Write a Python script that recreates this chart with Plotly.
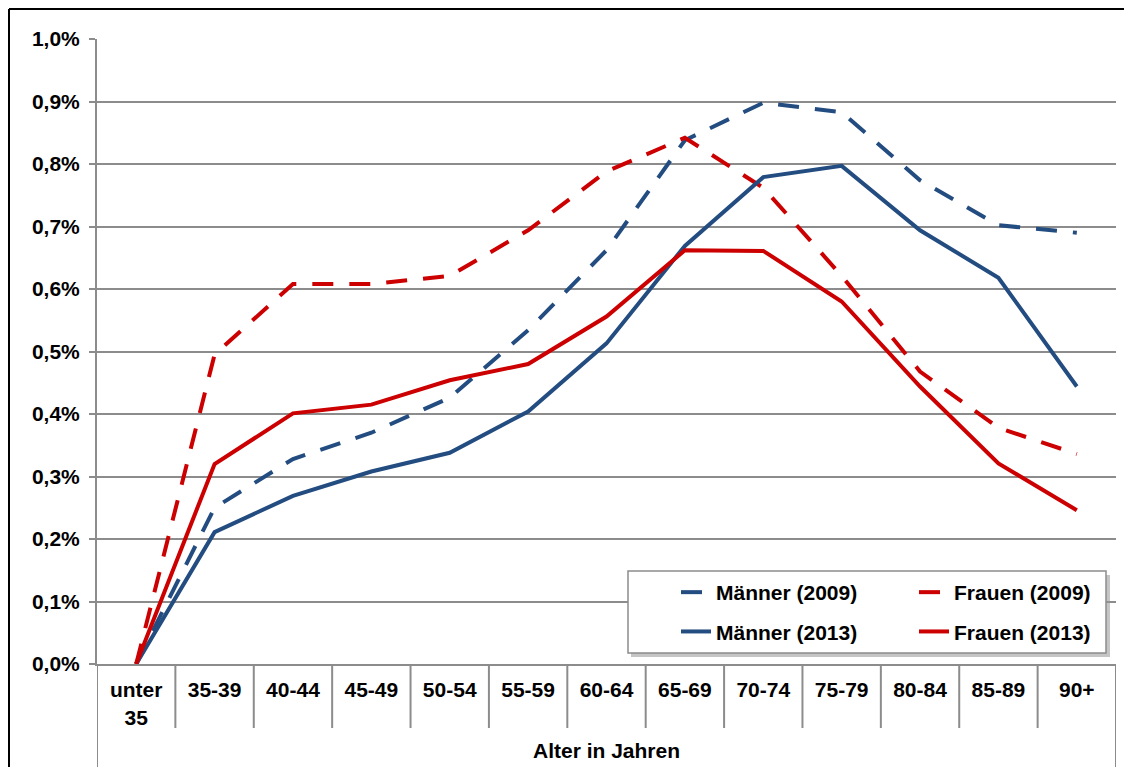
import plotly.graph_objects as go

# ---------------- data ----------------
categories = ["unter<br>35", "35-39", "40-44", "45-49", "50-54", "55-59", "60-64",
              "65-69", "70-74", "75-79", "80-84", "85-89", "90+"]
maenner_2009 = [0.0, 0.250, 0.328, 0.370, 0.426, 0.534, 0.662, 0.838, 0.898, 0.883, 0.774, 0.702, 0.690]
frauen_2009 = [0.0, 0.495, 0.608, 0.608, 0.621, 0.694, 0.788, 0.842, 0.762, 0.621, 0.468, 0.378, 0.336]
maenner_2013 = [0.0, 0.211, 0.269, 0.308, 0.338, 0.404, 0.513, 0.669, 0.779, 0.797, 0.694, 0.618, 0.444]
frauen_2013 = [0.0, 0.320, 0.401, 0.415, 0.454, 0.480, 0.556, 0.662, 0.661, 0.580, 0.444, 0.321, 0.246]
y_ticks = [0.0, 0.1, 0.2, 0.3, 0.4, 0.5, 0.6, 0.7, 0.8, 0.9, 1.0]
y_ticktext = [f"{v:.1f}%".replace(".", ",") for v in y_ticks]

BLUE = "#234C80"
RED = "#CC0000"
GRID = "#8C8C8C"
FONT = dict(family="Liberation Sans, Arial, sans-serif", size=21, color="black", weight="bold")

W, H = 1124, 767
ML, MR, MT, MB = 97, 8, 39, 103
PW, PH = W - ML - MR, H - MT - MB


def px_x(px):
    return (px - ML) / PW


def px_y(py):
    return (H - MB - py) / PH


fig = go.Figure()
series = [
    ("Männer (2009)", maenner_2009, BLUE, "21px,16px", "legend", "m09"),
    ("Frauen (2009)", frauen_2009, RED, "21px,16px", "legend2", "f09"),
    ("Männer (2013)", maenner_2013, BLUE, "solid", "legend", "m13"),
    ("Frauen (2013)", frauen_2013, RED, "solid", "legend2", "f13"),
]
for name, vals, col, dash, leg, grp in series:
    fig.add_trace(go.Scatter(
        x=categories, y=vals, name=name, mode="lines",
        line=dict(color=col, width=4, dash=dash),
        legend=leg, legendgroup=grp,
    ))

shapes = []
# outer frame (top and left)
shapes.append(dict(type="line", xref="paper", yref="paper",
                   x0=px_x(9), x1=px_x(W + 10), y0=px_y(9), y1=px_y(9),
                   line=dict(color="black", width=2)))
shapes.append(dict(type="line", xref="paper", yref="paper",
                   x0=px_x(9), x1=px_x(9), y0=px_y(9), y1=px_y(H + 10),
                   line=dict(color="black", width=2)))
# category dividers below the x axis
n = len(categories)
for i in range(n + 1):
    outer = i == 0 or i == n
    shapes.append(dict(type="line", xref="x", yref="paper",
                       x0=i - 0.5, x1=i - 0.5, y0=0, y1=px_y(H + 10) if outer else px_y(728),
                       line=dict(color=GRID, width=2)))
# legend box with shadow
shapes.append(dict(type="rect", xref="paper", yref="paper", layer="above",
                   x0=px_x(631), x1=px_x(1110), y0=px_y(575), y1=px_y(657),
                   fillcolor="rgba(150,150,150,0.55)", line=dict(width=0)))
shapes.append(dict(type="rect", xref="paper", yref="paper", layer="above",
                   x0=px_x(628), x1=px_x(1106), y0=px_y(571), y1=px_y(653),
                   fillcolor="white", line=dict(color=GRID, width=1.5)))

legend_common = dict(font=FONT, bgcolor="rgba(0,0,0,0)", borderwidth=0,
                     xanchor="left", yanchor="top", orientation="v",
                     tracegroupgap=9, traceorder="grouped")

fig.update_layout(
    width=W, height=H,
    margin=dict(l=ML, r=MR, t=MT, b=MB, pad=0),
    paper_bgcolor="white", plot_bgcolor="white",
    font=FONT,
    showlegend=True,
    legend=dict(x=px_x(676), y=px_y(572), **legend_common),
    legend2=dict(x=px_x(914), y=px_y(572), **legend_common),
    shapes=shapes,
    xaxis=dict(
        type="category", categoryorder="array", categoryarray=categories,
        range=[-0.5, n - 0.5], showgrid=False, ticks="",
        showline=True, linecolor=GRID, linewidth=2,
        tickfont=FONT, ticklabelstandoff=6,
        title=dict(text="Alter in Jahren", font=FONT, standoff=16),
    ),
    yaxis=dict(
        range=[0, 1.0], tickvals=y_ticks, ticktext=y_ticktext,
        showgrid=True, gridcolor=GRID, gridwidth=2,
        showline=True, linecolor=GRID, linewidth=2,
        ticks="outside", ticklen=6, tickcolor=GRID, tickwidth=2,
        tickfont=FONT, ticklabelstandoff=5, zeroline=False,
    ),
)

fig.write_html("out.html", config={"displayModeBar": False},
               post_script="document.body.style.margin='0';document.body.style.overflow='hidden';")
